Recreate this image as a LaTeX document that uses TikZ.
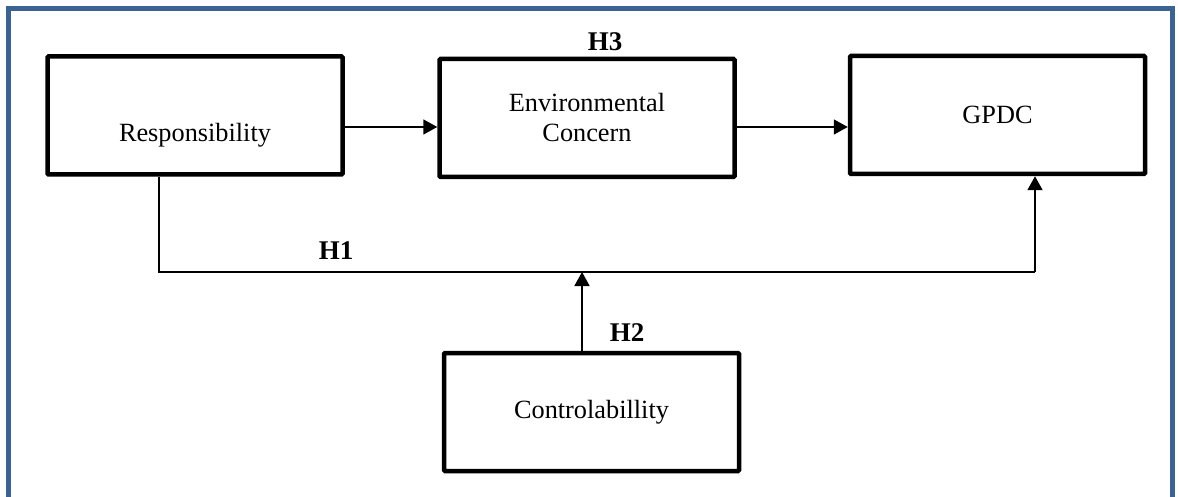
\documentclass[tikz,border=0pt]{standalone}
\usepackage{fontspec}
\setmainfont{Liberation Serif}
\usetikzlibrary{arrows.meta}
\definecolor{framecol}{RGB}{58,98,146}
\tikzset{
  box/.style={draw=black, line width=4.5pt, rounded corners=1pt, minimum width=295pt, minimum height=118pt, inner sep=0pt, font=\fontsize{26.3}{30}\selectfont, align=center},
  conn/.style={draw=black, line width=1.8pt},
  arr/.style={conn, -{Triangle[length=14pt,width=15pt]}},
  hlabel/.style={font=\fontsize{27}{30}\selectfont\bfseries, inner sep=0pt}
}
\begin{document}
\begin{tikzpicture}[x=1pt,y=-1pt]
\useasboundingbox (0,0) rectangle (1178,497);
\draw[framecol, line width=5pt] (8,505) -- (8,9) -- (1172,9) -- (1172,505);
\node[box] (resp) at (195,115.5) {\raisebox{-26pt}[0pt][0pt]{Responsibility}};
\node[box] (env) at (587,118) {Environmental\\Concern};
\node[box] (gpdc) at (997.5,115) {GPDC};
\node[box] (ctrl) at (591.5,412) {Controlabillity};
\coordinate (ya) at (0,127);
\coordinate (c1) at (159,272);
\coordinate (c2) at (1035,272);
\coordinate (c3) at (582,272);
\draw[arr] (resp.east |- ya) -- (env.west |- ya);
\draw[arr] (env.east |- ya) -- (gpdc.west |- ya);
\draw[conn] (c1 |- resp.south) -- (c1) -- (c2);
\draw[arr] (c2) -- (c2 |- gpdc.south);
\draw[arr] (c3 |- ctrl.north) -- (c3);
\node[hlabel] (h1) at (336,251) {H1};
\node[hlabel] (h2) at (627,333) {H2};
\node[hlabel] (h3) at (605,42) {H3};
\end{tikzpicture}
\end{document}
